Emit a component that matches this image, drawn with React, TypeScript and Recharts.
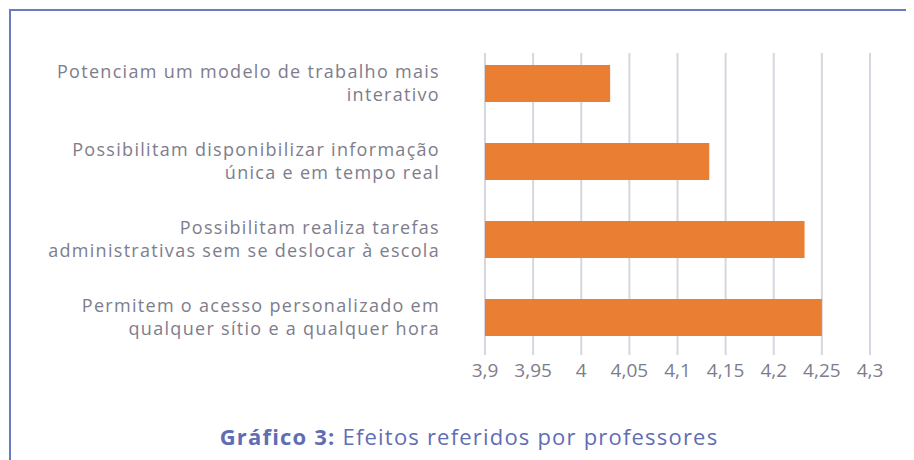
import { BarChart, Bar, XAxis, YAxis, CartesianGrid } from "recharts";

const categories = [
  "Potenciam um modelo de trabalho mais\ninterativo",
  "Possibilitam disponibilizar informação\núnica e em tempo real",
  "Possibilitam realiza tarefas\nadministrativas sem se deslocar à escola",
  "Permitem o acesso personalizado em\nqualquer sítio e a qualquer hora",
];
const scores = [4.03, 4.133, 4.232, 4.25];
const xTicks = [3.9, 3.95, 4, 4.05, 4.1, 4.15, 4.2, 4.25, 4.3];

const data = categories.map((label, i) => ({ label, score: scores[i] }));

const FONT = "'Open Sans', sans-serif";
const GRAY = "#7d7d8c";

function CategoryTick({ x, y, payload }: any) {
  const lines = String(payload.value).split("\n");
  return (
    <text
      x={x}
      y={y}
      textAnchor="end"
      fill={GRAY}
      fontSize={18}
      letterSpacing={1.3}
      fontFamily={FONT}
    >
      {lines.map((ln, i) => (
        <tspan key={i} x={x} y={y + (i - (lines.length - 1) / 2) * 23 + 6}>
          {ln}
        </tspan>
      ))}
    </text>
  );
}

export default function App() {
  return (
    <div style={{ position: "relative", width: 906, height: 452, fontFamily: FONT }}>
      <div
        style={{
          position: "absolute",
          left: 1,
          top: 1,
          right: 0,
          bottom: 0,
          borderTop: "2px solid #6b7bbf",
          borderLeft: "2px solid #6b7bbf",
        }}
      />
      <BarChart
        width={906}
        height={452}
        data={data}
        layout="vertical"
        margin={{ top: 36, right: 44, bottom: 74, left: 0 }}
        barCategoryGap="52%"
      >
        <CartesianGrid horizontal={false} stroke="#d6d6e0" strokeWidth={2} y={45} height={302} />
        <XAxis
          type="number"
          domain={[3.9, 4.3]}
          ticks={xTicks}
          interval={0}
          axisLine={false}
          tickLine={false}
          tickSize={0}
          tickMargin={8}
          height={30}
          tick={{ fill: GRAY, fontSize: 19, fontFamily: FONT }}
          tickFormatter={(v: number) => String(v).replace(".", ",")}
        />
        <YAxis
          type="category"
          dataKey="label"
          width={477}
          axisLine={false}
          tickLine={false}
          tickSize={0}
          tickMargin={45}
          interval={0}
          tick={<CategoryTick />}
        />
        <Bar dataKey="score" fill="#ea7e32" barSize={37} isAnimationActive={false} />
      </BarChart>
      <div
        style={{
          position: "absolute",
          left: 461,
          top: 413,
          transform: "translateX(-50%)",
          whiteSpace: "nowrap",
          fontSize: 22,
          letterSpacing: 1.2,
          color: "#5f6db5",
        }}
      >
        <b>Gráfico 3:</b> Efeitos referidos por professores
      </div>
    </div>
  );
}
